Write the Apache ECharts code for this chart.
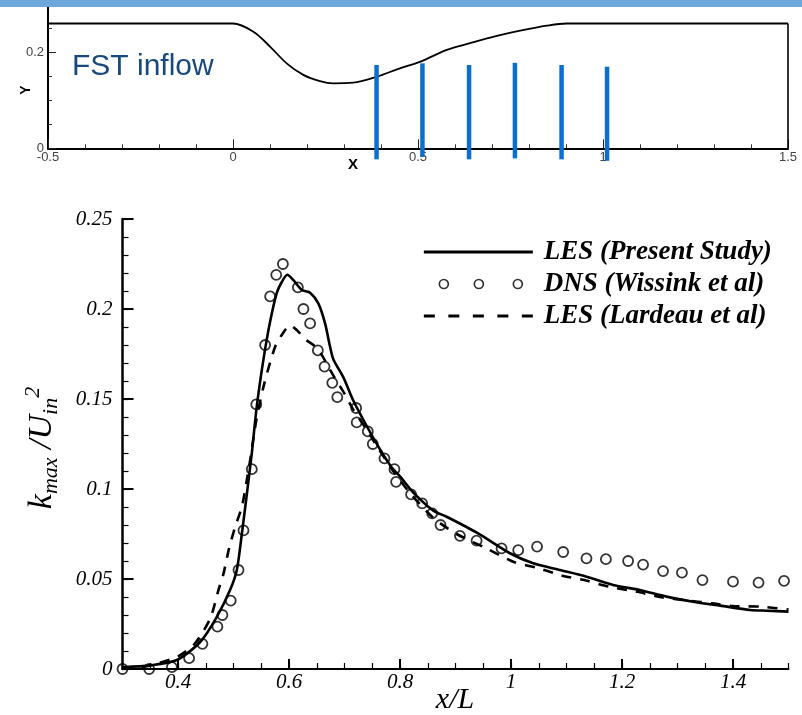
<!DOCTYPE html>
<html><head><meta charset="utf-8">
<script src="https://cdn.jsdelivr.net/npm/echarts@6/dist/echarts.min.js"></script>
<style>html,body{margin:0;padding:0;background:#fff}#c{width:802px;height:715px}</style>
</head><body><div id="c"></div>
<script>
// ---- top panel: geometry ----
const wallX = [-0.5, -0.05, 0, 0.055, 0.1, 0.145, 0.19, 0.235, 0.271, 0.325, 0.388, 0.451, 0.505, 0.578, 0.641, 0.713, 0.776, 0.848, 0.902, 0.95, 1.5];
const wallY = [0.26, 0.26, 0.26, 0.243, 0.212, 0.177, 0.153, 0.140, 0.1354, 0.1367, 0.149, 0.1667, 0.180, 0.205, 0.219, 0.234, 0.245, 0.2555, 0.26, 0.26, 0.26];
const edgeX = [1.5, 1.5];
const edgeY = [0.26, 0];
const probeX = [0.388, 0.512, 0.638, 0.762, 0.888, 1.011];
const probeTop = [0.1735, 0.177, 0.1735, 0.178, 0.1735, 0.170];
const probeBottom = [-0.023, -0.018, -0.023, -0.021, -0.023, -0.026];
const topXTicks = [-0.5, 0, 0.5, 1, 1.5];
const topYTicks = [0, 0.2];

// ---- main panel ----
const mainXTicks = [0.4, 0.6, 0.8, 1, 1.2, 1.4];
const mainYTicks = [0, 0.05, 0.1, 0.15, 0.2, 0.25];

const lesX = [0.30, 0.35, 0.398, 0.44, 0.47, 0.494, 0.506, 0.515, 0.524, 0.533, 0.542, 0.554, 0.566, 0.578, 0.587, 0.597, 0.608, 0.623, 0.638, 0.653, 0.665, 0.674, 0.680, 0.698, 0.716, 0.740, 0.764, 0.785, 0.80, 0.824, 0.86, 0.884, 0.94, 0.998, 1.04, 1.088, 1.136, 1.184, 1.232, 1.28, 1.328, 1.377, 1.431, 1.461, 1.50];
const lesY = [0.001, 0.002, 0.005, 0.015, 0.029, 0.044, 0.055, 0.075, 0.097, 0.120, 0.146, 0.172, 0.193, 0.209, 0.215, 0.219, 0.216, 0.2106, 0.209, 0.203, 0.192, 0.179, 0.172, 0.162, 0.149, 0.135, 0.122, 0.112, 0.107, 0.098, 0.088, 0.0846, 0.0755, 0.0643, 0.0587, 0.055, 0.0513, 0.0467, 0.0439, 0.0402, 0.0374, 0.0352, 0.0328, 0.0324, 0.0319];

const dnsX = [0.300, 0.348, 0.389, 0.420, 0.444, 0.471, 0.480, 0.495, 0.509, 0.518, 0.533, 0.541, 0.557, 0.566, 0.577, 0.589, 0.616, 0.626, 0.638, 0.652, 0.664, 0.678, 0.687, 0.721, 0.722, 0.742, 0.751, 0.772, 0.790, 0.793, 0.820, 0.840, 0.858, 0.873, 0.908, 0.938, 0.983, 1.013, 1.047, 1.094, 1.136, 1.171, 1.211, 1.238, 1.274, 1.308, 1.345, 1.400, 1.446, 1.492];
const dnsY = [0.000, 0.000, 0.001, 0.006, 0.014, 0.0235, 0.030, 0.038, 0.055, 0.077, 0.111, 0.147, 0.180, 0.207, 0.219, 0.225, 0.212, 0.200, 0.192, 0.177, 0.168, 0.159, 0.151, 0.145, 0.137, 0.132, 0.125, 0.117, 0.111, 0.104, 0.097, 0.092, 0.0865, 0.080, 0.074, 0.0713, 0.067, 0.066, 0.068, 0.065, 0.0615, 0.061, 0.060, 0.058, 0.0544, 0.0535, 0.0494, 0.0485, 0.048, 0.049];

const lardX = [0.30, 0.35, 0.40, 0.43, 0.458, 0.473, 0.482, 0.492, 0.503, 0.515, 0.524, 0.530, 0.541, 0.555, 0.575, 0.590, 0.602, 0.615, 0.630, 0.644, 0.656, 0.680, 0.700, 0.716, 0.740, 0.760, 0.790, 0.820, 0.860, 0.902, 0.956, 1.004, 1.049, 1.091, 1.137, 1.181, 1.226, 1.268, 1.32, 1.362, 1.40, 1.452, 1.50];
const lardY = [0.000, 0.002, 0.007, 0.014, 0.028, 0.044, 0.053, 0.067, 0.079, 0.090, 0.105, 0.116, 0.138, 0.158, 0.179, 0.187, 0.191, 0.188, 0.183, 0.180, 0.176, 0.163, 0.153, 0.144, 0.133, 0.123, 0.109, 0.097, 0.084, 0.075, 0.067, 0.0596, 0.056, 0.052, 0.049, 0.0454, 0.043, 0.040, 0.038, 0.0365, 0.035, 0.0346, 0.033];

const seriesNames = ['LES (Present Study)', 'DNS (Wissink et al)', 'LES (Lardeau et al)'];

const zip = (a, b) => a.map((v, i) => [v, b[i]]);
const serif = "'Liberation Serif','Times New Roman',serif";
const sans = "'Liberation Sans Narrow','Liberation Sans',Arial,sans-serif";
const blk = '#000';

const chart = echarts.init(document.getElementById('c'), null, {renderer: 'canvas'});

const probeSeries = probeX.map((x, i) => ({
  type: 'line', xAxisIndex: 0, yAxisIndex: 0, clip: false, silent: true,
  symbol: 'none', z: 5,
  data: [[x, probeTop[i]], [x, probeBottom[i]]],
  lineStyle: {color: '#0A6FD0', width: 4.5, cap: 'butt'}
}));

// legend icons (109 x 9 boxes)
const solidIcon = 'path://M0 0 M0 3.1 h109 v2.8 h-109 Z M109 9';
const dashIcon = 'path://M0 0 M0 3.1 h11 v2.8 h-11 Z M24.5 3.1 h11 v2.8 h-11 Z M49 3.1 h11 v2.8 h-11 Z M73.5 3.1 h11 v2.8 h-11 Z M98 3.1 h11 v2.8 h-11 Z M109 9';
const circlesIcon = 'path://M0 4.5 M15.5 4.5 a4.5 4.5 0 1 0 9 0 a4.5 4.5 0 1 0 -9 0 M50.5 4.5 a4.5 4.5 0 1 0 9 0 a4.5 4.5 0 1 0 -9 0 M89.5 4.5 a4.5 4.5 0 1 0 9 0 a4.5 4.5 0 1 0 -9 0 M109 4.5';

const option = {
  animation: false,
  backgroundColor: '#fff',
  grid: [
    {left: 48, right: 14, top: 4.3, bottom: 566.7},
    {left: 122.5, right: 13.5, top: 219, bottom: 46}
  ],
  xAxis: [
    {gridIndex: 0, type: 'value', min: -0.5, max: 1.5, interval: 0.1, position: 'bottom',
     axisLine: {show: true, onZero: false, lineStyle: {color: blk, width: 2}},
     axisTick: {show: true, inside: true, length: 4, lineStyle: {color: '#333', width: 1}},
     axisLabel: {show: false}, splitLine: {show: false}},
    {gridIndex: 0, type: 'value', min: -0.5, max: 1.5, position: 'bottom',
     axisLine: {show: false, onZero: false},
     axisTick: {show: true, inside: true, length: 9, customValues: topXTicks, lineStyle: {color: '#222', width: 1}},
     axisLabel: {show: true, customValues: topXTicks, formatter: v => String(v), fontFamily: sans, fontSize: 13, color: '#444', margin: 3},
     splitLine: {show: false}},
    {gridIndex: 1, type: 'value', min: 0.3, max: 1.5, interval: 0.05, position: 'bottom',
     axisLine: {show: true, onZero: false, lineStyle: {color: blk, width: 2}},
     axisTick: {show: true, inside: true, length: 6, lineStyle: {color: blk, width: 1.2}},
     axisLabel: {show: false}, splitLine: {show: false}},
    {gridIndex: 1, type: 'value', min: 0.3, max: 1.5, position: 'bottom',
     axisLine: {show: false, onZero: false},
     axisTick: {show: true, inside: true, length: 10, customValues: mainXTicks, lineStyle: {color: blk, width: 2}},
     axisLabel: {show: true, customValues: mainXTicks, formatter: v => String(v), fontFamily: serif, fontStyle: 'italic', fontSize: 21, color: blk, margin: 3},
     splitLine: {show: false}}
  ],
  yAxis: [
    {gridIndex: 0, type: 'value', min: 0, max: 0.3, interval: 0.05, position: 'left',
     axisLine: {show: true, onZero: false, lineStyle: {color: blk, width: 2}},
     axisTick: {show: true, inside: true, length: 4, lineStyle: {color: '#333', width: 1}},
     axisLabel: {show: false}, splitLine: {show: false}},
    {gridIndex: 0, type: 'value', min: 0, max: 0.3, position: 'left',
     axisLine: {show: false, onZero: false},
     axisTick: {show: true, inside: true, length: 8, customValues: topYTicks, lineStyle: {color: '#222', width: 1}},
     axisLabel: {show: true, customValues: topYTicks, formatter: v => String(v), fontFamily: sans, fontSize: 13, color: '#444', margin: 4},
     splitLine: {show: false}},
    {gridIndex: 1, type: 'value', min: 0, max: 0.25, interval: 0.01, position: 'left',
     axisLine: {show: true, onZero: false, lineStyle: {color: blk, width: 2.5}},
     axisTick: {show: true, inside: true, length: 6, lineStyle: {color: blk, width: 1.2}},
     axisLabel: {show: false}, splitLine: {show: false}},
    {gridIndex: 1, type: 'value', min: 0, max: 0.25, position: 'left',
     axisLine: {show: false, onZero: false},
     axisTick: {show: true, inside: true, length: 11, customValues: mainYTicks, lineStyle: {color: blk, width: 2}},
     axisLabel: {show: true, customValues: mainYTicks, formatter: v => String(v), fontFamily: serif, fontStyle: 'italic', fontSize: 21, color: blk, margin: 10},
     splitLine: {show: false}}
  ],
  legend: {
    orient: 'vertical', left: 418, top: 232, itemWidth: 109, itemHeight: 9, itemGap: 2,
    textStyle: {fontFamily: serif, fontStyle: 'italic', fontWeight: 'bold', fontSize: 27, lineHeight: 30, color: blk, padding: [0, 0, 0, 6]},
    data: [
      {name: seriesNames[0], icon: solidIcon, itemStyle: {color: blk, borderWidth: 0}},
      {name: seriesNames[1], icon: circlesIcon, itemStyle: {color: 'rgba(0,0,0,0)', borderColor: blk, borderWidth: 1.7}},
      {name: seriesNames[2], icon: dashIcon, itemStyle: {color: blk, borderWidth: 0}}
    ]
  },
  graphic: [
    {type: 'rect', left: 0, top: 0, z: 100, shape: {width: 802, height: 7}, style: {fill: '#6EA7DD'}},
    {type: 'text', x: 72, y: 67, z: 50, style: {text: 'FST inflow', fontFamily: "'Liberation Sans',Arial,sans-serif", fontSize: 30, fill: '#17497E', verticalAlign: 'middle', align: 'left'}},
    {type: 'text', x: 26, y: 90, rotation: Math.PI / 2, z: 50, style: {text: 'Y', fontFamily: "'Liberation Sans',Arial,sans-serif", fontWeight: 'bold', fontSize: 14, fill: blk, align: 'center', verticalAlign: 'middle'}},
    {type: 'text', x: 353, y: 165, z: 50, style: {text: 'X', fontFamily: "'Liberation Sans',Arial,sans-serif", fontWeight: 'bold', fontSize: 15, fill: blk, align: 'center', verticalAlign: 'middle'}},
    {type: 'text', x: 455, y: 700, z: 50, style: {text: 'x/L', fontFamily: serif, fontStyle: 'italic', fontSize: 30, fill: blk, align: 'center', verticalAlign: 'middle'}},
    {type: 'text', x: 42, y: 448, rotation: Math.PI / 2, z: 50, style: {
      text: '{a|k}{b|max}{a| /U}{b|in}{c|2}', align: 'center', verticalAlign: 'middle',
      rich: {
        a: {fontFamily: serif, fontStyle: 'italic', fontSize: 34, lineHeight: 40, verticalAlign: 'middle', fill: blk},
        b: {fontFamily: serif, fontStyle: 'italic', fontSize: 22, lineHeight: 22, verticalAlign: 'bottom', fill: blk},
        c: {fontFamily: serif, fontStyle: 'italic', fontSize: 22, lineHeight: 24, verticalAlign: 'top', fill: blk}
      }}}
  ],
  series: [
    {name: 'wall', type: 'line', xAxisIndex: 0, yAxisIndex: 0, symbol: 'none', smooth: 0.35, clip: false, silent: true,
     data: zip(wallX, wallY), lineStyle: {color: blk, width: 1.8}},
    {name: 'edge', type: 'line', xAxisIndex: 0, yAxisIndex: 0, symbol: 'none', clip: false, silent: true,
     data: zip(edgeX, edgeY), lineStyle: {color: blk, width: 1.6}},
    ...probeSeries,
    {name: seriesNames[0], type: 'line', xAxisIndex: 2, yAxisIndex: 2, symbol: 'none', smooth: 0.25, z: 3,
     data: zip(lesX, lesY), lineStyle: {color: blk, width: 2.6}, itemStyle: {color: blk}},
    {name: seriesNames[1], type: 'scatter', xAxisIndex: 2, yAxisIndex: 2, symbol: 'circle', symbolSize: 10, z: 4,
     data: zip(dnsX, dnsY), itemStyle: {color: 'rgba(0,0,0,0)', borderColor: blk, borderWidth: 1.8}},
    {name: seriesNames[2], type: 'line', xAxisIndex: 2, yAxisIndex: 2, symbol: 'none', smooth: 0.25, z: 3,
     data: zip(lardX, lardY), lineStyle: {color: blk, width: 2.6, type: [10, 9]}, itemStyle: {color: blk}}
  ]
};
chart.setOption(option);
</script>
</body></html>
